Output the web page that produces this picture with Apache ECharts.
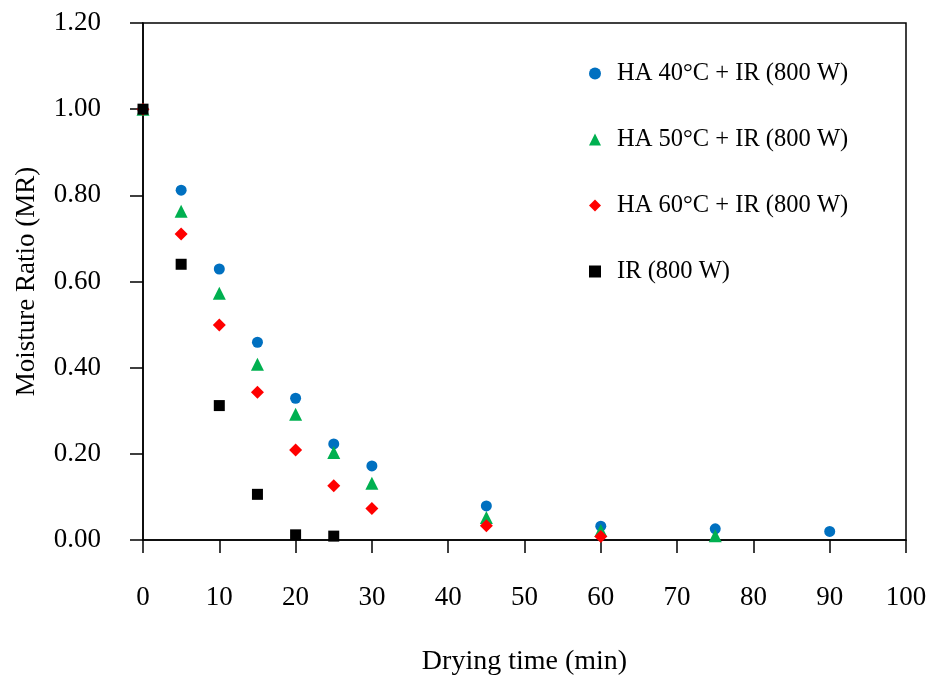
<!DOCTYPE html>
<html>
<head>
<meta charset="utf-8">
<script src="https://cdn.jsdelivr.net/npm/echarts@6/dist/echarts.min.js"></script>
<style>
  html, body { margin: 0; padding: 0; background: #fff; }
  #chart { width: 931px; height: 681px; }
</style>
</head>
<body>
<div id="chart"></div>
<script>
// Drying time (min) at each sampling point
const time = [0, 5, 10, 15, 20, 25, 30, 45, 60, 75, 90];

// Moisture ratio per drying condition
const ha40 = [1.00, 0.812, 0.629, 0.459, 0.329, 0.223, 0.172, 0.079, 0.032, 0.026, 0.020];
const ha50 = [1.00, 0.763, 0.573, 0.408, 0.292, 0.203, 0.132, 0.052, 0.022, 0.010];
const ha60 = [1.00, 0.710, 0.499, 0.343, 0.209, 0.126, 0.073, 0.033, 0.008];
const ir   = [1.00, 0.640, 0.312, 0.106, 0.012, 0.009];

const seriesNames = ['HA 40°C + IR (800 W)', 'HA 50°C + IR (800 W)', 'HA 60°C + IR (800 W)', 'IR (800 W)'];

const FONT = '"Liberation Serif", "Times New Roman", serif';

function pairs(values) {
  return values.map((v, i) => [time[i], v]);
}

const chart = echarts.init(document.getElementById('chart'), null, { renderer: 'canvas' });

const axisLine = { show: true, lineStyle: { color: '#000', width: 1.5 } };

chart.setOption({
  backgroundColor: '#fff',
  animation: false,
  grid: {
    left: 143, right: 25, top: 23, bottom: 141,
    show: true, borderColor: '#000', borderWidth: 1.5, backgroundColor: 'transparent'
  },
  legend: {
    orient: 'vertical',
    left: 589, top: 61,
    padding: 0,
    itemGap: 41,
    itemWidth: 12, itemHeight: 12,
    data: seriesNames,
    textStyle: {
      fontFamily: FONT, fontSize: 24.5, color: '#000',
      lineHeight: 25, padding: [0, 0, 0, 11]
    }
  },
  xAxis: {
    type: 'value',
    min: 0, max: 100, interval: 10,
    name: 'Drying time (min)',
    nameLocation: 'middle',
    nameGap: 108,
    nameTextStyle: { fontFamily: FONT, fontSize: 28, color: '#000' },
    axisLine: axisLine,
    axisTick: { show: true, inside: false, length: 13, lineStyle: { color: '#000', width: 1.5 } },
    axisLabel: { margin: 44, fontFamily: FONT, fontSize: 27, color: '#000' },
    splitLine: { show: false }
  },
  yAxis: {
    type: 'value',
    min: 0, max: 1.2, interval: 0.2,
    name: 'Moisture Ratio (MR)',
    nameLocation: 'middle',
    nameGap: 103,
    nameTextStyle: { fontFamily: FONT, fontSize: 27, color: '#000' },
    axisLine: axisLine,
    axisTick: { show: true, inside: false, length: 13, lineStyle: { color: '#000', width: 1.5 } },
    axisLabel: {
      margin: 42, fontFamily: FONT, fontSize: 27, color: '#000',
      formatter: v => v.toFixed(2)
    },
    splitLine: { show: false }
  },
  series: [
    {
      name: seriesNames[0], type: 'scatter', symbol: 'circle', symbolSize: 11,
      itemStyle: { color: '#0070C0', opacity: 1 }, data: pairs(ha40), z: 2
    },
    {
      name: seriesNames[1], type: 'scatter', symbol: 'triangle', symbolSize: 13,
      itemStyle: { color: '#00B050', opacity: 1 }, data: pairs(ha50), z: 3
    },
    {
      name: seriesNames[2], type: 'scatter', symbol: 'diamond', symbolSize: 13,
      itemStyle: { color: '#FF0000', opacity: 1 }, data: pairs(ha60), z: 4
    },
    {
      name: seriesNames[3], type: 'scatter', symbol: 'rect', symbolSize: 11,
      itemStyle: { color: '#000000', opacity: 1 }, data: pairs(ir), z: 5
    }
  ]
});
</script>
</body>
</html>
